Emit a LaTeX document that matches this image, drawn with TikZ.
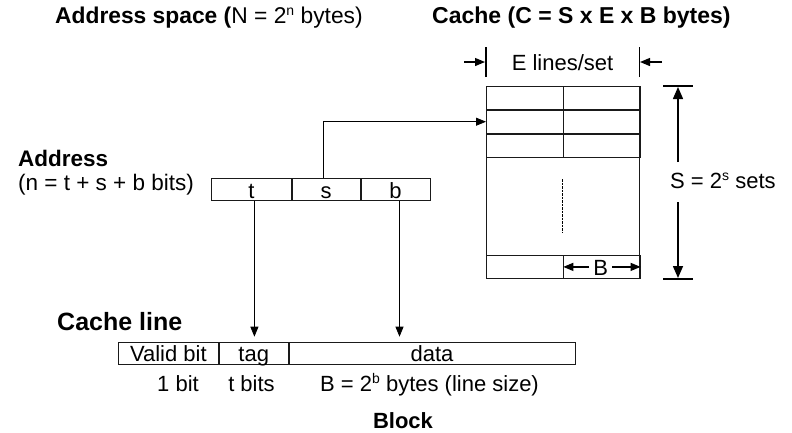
\documentclass[tikz,border=0pt]{standalone}
\usepackage{fontspec}
\setmainfont{Liberation Sans}
\usepackage{tikz}
\usetikzlibrary{arrows.meta,positioning}
\definecolor{CInk}{HTML}{000000}
\definecolor{CGrid}{HTML}{1A1A1A}
\newcommand{\expo}[1]{\raisebox{.62ex}{\fontsize{14}{14}\selectfont #1}}

\tikzset{
  field/.style={draw=CGrid,line width=.8pt,inner sep=0pt,text height=19.8pt,text depth=2.4pt,minimum height=22.2pt},
  cell/.style={draw=CGrid,line width=.8pt,inner sep=0pt,minimum width=76.5pt,minimum height=23pt},
  lbl/.style={anchor=base,inner sep=0pt},
  arr/.style={CInk,line width=.8pt,-{Triangle[length=10pt,width=8pt]}},
  dimarr/.style={CInk,line width=1.5pt,-{Triangle[length=12pt,width=10pt]}},
}

\begin{document}
\begin{tikzpicture}[x=1pt,y=-1pt,every node/.style={font=\fontsize{22}{26}\selectfont}]
\path[use as bounding box] (0,0) rectangle (792,432);
% titles
\node[lbl,anchor=base west,font=\fontsize{22.8}{27}\selectfont] (aspace) at (55,23) {\textbf{Address space (}N = 2\expo{n} bytes)};
\node[lbl,anchor=base west,font=\fontsize{23}{27}\selectfont\bfseries] (csize) at (432,23) {Cache (C = S x E x B bytes)};
% address
\node[lbl,anchor=base west,font=\fontsize{22.5}{27}\selectfont\bfseries] (addr) at (18,166) {Address};
\node[lbl,anchor=base west,font=\fontsize{22.5}{27}\selectfont] (addrn) at (18,190) {(n = t + s + b bits)};
\node[field,minimum width=80pt,anchor=north west] (tf) at (211,178) {t};
\node[field,minimum width=68pt,right=0pt of tf] (sf) {s};
\node[field,minimum width=69pt,right=0pt of sf] (bf) {b};
% cache
\node[draw=CGrid,line width=.8pt,inner sep=0pt,minimum width=153pt,minimum height=192pt,anchor=north west] (cache) at (486,86) {};
\node[cell,anchor=north west] (set0a) at (486,86) {};
\node[cell,right=0pt of set0a] (set0b) {};
\node[cell,below=0pt of set0a] (set1a) {};
\node[cell,right=0pt of set1a] (set1b) {};
\node[cell,below=0pt of set1a] (set2a) {};
\node[cell,right=0pt of set2a] (set2b) {};
\node[cell,anchor=south west] (setla) at (cache.south west) {};
\node[cell,right=0pt of setla] (setlb) {};
\draw[CInk,line width=1.5pt,dash pattern=on 2.5pt off 1pt] (562.5,179) -- (562.5,232);
% E lines/set
\draw[CInk,line width=1.2pt] (cache.north west) ++(0,-9) -- ++(0,-30);
\draw[CInk,line width=1.2pt] (cache.north east) ++(0,-9) -- ++(0,-30);
\node[lbl] (elines) at (562.5,70) {E lines/set};
\coordinate (ea) at (464,62);
\coordinate (eb) at (485,62);
\coordinate (ec) at (662,62);
\coordinate (ed) at (640,62);
\draw[arr,line width=1.2pt] (ea) -- (eb);
\draw[arr,line width=1.2pt] (ec) -- (ed);
% S = 2^s sets
\draw[CInk,line width=1.5pt] (663,86) -- (693,86);
\draw[CInk,line width=1.5pt] (663,279) -- (693,279);
\node[lbl,anchor=base west] (sets) at (670,188) {S = 2\expo{s} sets};
\coordinate (su) at (678,162);
\coordinate (sd) at (678,202);
\draw[dimarr] (su) -- (678,87);
\draw[dimarr] (sd) -- (678,278);
% B
\node[lbl] (bsz) at (600.75,275) {B};
\draw[arr,line width=1.2pt] ([xshift=-4pt]bsz.west |- setlb.west) -- (setlb.west);
\draw[arr,line width=1.2pt] ([xshift=4pt]bsz.east |- setlb.east) -- (setlb.east);
% cache line
\node[lbl,anchor=base west,font=\fontsize{25}{30}\selectfont\bfseries] (cline) at (57,330) {Cache line};
\node[field,minimum width=100pt,anchor=north west] (valid) at (118,341.7) {Valid bit};
\node[field,minimum width=69pt,right=0pt of valid] (tag) {tag};
\node[field,minimum width=286pt,right=0pt of tag] (data) {data};
\node[lbl] (onebit) at (178,391) {1 bit};
\node[lbl] (tbits) at (251.5,391) {t bits};
\node[lbl] (bline) at (429.5,391) {B = 2\expo{b} bytes (line size)};
\node[lbl,font=\fontsize{22}{26}\selectfont\bfseries] (blk) at (403,428) {Block};
% connectors
\coordinate (tdrop) at ([xshift=3pt]tf.south);
\coordinate (bdrop) at ([xshift=4pt]bf.south);
\coordinate (sup) at ([xshift=-3pt]sf.north);
\draw[arr,shorten >=5pt] (tdrop) -- (tdrop |- tag.north);
\draw[arr,shorten >=5pt] (bdrop) -- (bdrop |- data.north);
\draw[arr] (sup) |- (set1a.west);
\end{tikzpicture}
\end{document}
